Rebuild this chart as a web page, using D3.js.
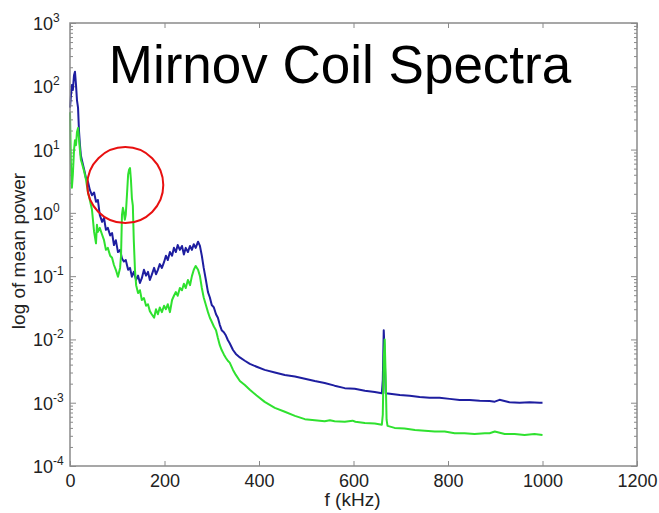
<!DOCTYPE html>
<html>
  <head>
    <title>Mirnov Coil Spectra</title>
    <script src="https://d3js.org/d3.v7.min.js"></script>
  </head>
  <style>
    body {
      margin: 0;
      background-color: white;
    }
    text {
      font-family: "Liberation Sans", Arial, sans-serif;
    }
  </style>
  <body>
    <div id="chart"></div>
    <script>

    // frequency (kHz) and mean power
    var blueFreq = [0, 2, 4, 6, 8.5, 10.5, 12.7, 14.8, 17, 19, 21, 23, 25, 30, 34, 38, 42, 46.5, 51, 55, 59,
      63, 68, 72, 76, 80, 85, 89, 93, 97, 101.5, 106, 110, 114, 118, 123, 127, 131, 135, 140, 144, 148, 152,
      156.5, 161, 165, 169, 173, 178, 182, 186, 190, 194.5, 199, 203, 207, 211.5, 216, 220, 224, 228, 232.5,
      237, 241, 245, 249.5, 254, 258, 262, 266, 271, 275, 279, 283, 287.6, 292, 296, 300, 304.5, 309, 313,
      317, 321, 325.6, 330, 334, 338, 345, 351, 359.5, 370, 380.6, 395, 412, 433.5, 454.6, 476, 497, 518,
      539, 560, 581.5, 602.6, 624, 645, 660, 662, 664, 666, 668, 677, 698, 719, 740, 761, 782, 803.5, 824.7,
      846, 867, 888, 899, 909, 930, 951.6, 972.7, 994, 1000];
    var bluePower = [46, 72, 105, 87, 150, 170, 105, 60, 46, 20, 12, 8.1, 6.9, 4.8, 3.5, 3.1, 2.3, 1.9, 2.1, 1.5, 1.6,
      0.93, 0.72, 0.83, 0.54, 0.58, 0.44, 0.48, 0.31, 0.37, 0.24, 0.26, 0.19, 0.17, 0.18, 0.126, 0.135, 0.098, 0.117, 0.087, 0.102, 0.078, 0.093,
      0.126, 0.102, 0.117, 0.087, 0.105, 0.135, 0.107, 0.126, 0.155, 0.135, 0.166, 0.21, 0.18, 0.24, 0.21, 0.28, 0.24, 0.31, 0.26,
      0.30, 0.22, 0.28, 0.24, 0.30, 0.26, 0.32, 0.28, 0.35, 0.30, 0.21, 0.135, 0.087, 0.056, 0.046, 0.035, 0.032, 0.025, 0.022,
      0.017, 0.014, 0.013, 0.0115, 0.0098, 0.0087, 0.0068, 0.0059, 0.0052, 0.0046, 0.0041, 0.0037, 0.0033, 0.0030, 0.00275, 0.0026, 0.0024, 0.0022,
      0.00205, 0.00186, 0.0017, 0.00166, 0.00155, 0.00148, 0.00141, 0.0023, 0.014, 0.0058, 0.00141, 0.00138, 0.00132, 0.00129, 0.00123, 0.0012, 0.0012, 0.00115, 0.0011,
      0.0011, 0.00107, 0.00106, 0.00104, 0.00111, 0.00102, 0.001, 0.00102, 0.001, 0.001];

    var greenFreq = [0, 2, 4, 6, 8.5, 10.5, 12.7, 14.8, 17, 19, 21, 23, 25, 30, 34, 38, 42, 46.5, 51, 55, 57, 59,
      63, 68, 72, 76, 80, 85, 89, 93, 97, 101.5, 106, 108, 110, 112, 114, 116, 118, 120.5, 123, 125, 127, 129,
      131, 133, 135, 137.5, 140, 144, 148, 152, 156.5, 161, 165, 169, 173, 178, 182, 186, 190, 194.5, 199,
      203, 207, 211.5, 216, 220, 224, 228, 232.5, 237, 241, 245, 249.5, 254, 258, 262, 266, 271, 275, 279,
      283, 287.6, 292, 296, 300, 304.5, 309, 313, 317, 321, 325.6, 330, 334, 338, 345, 351, 359.5, 370, 380.6,
      395, 412, 433.5, 454.6, 476, 497, 518, 539, 550, 560, 581.5, 598, 604, 624, 645, 660, 662, 664, 666, 668,
      670, 672, 687, 708, 730, 751, 772, 793, 814, 835, 856, 878, 888, 899, 920, 941, 962, 983, 1000];
    var greenPower = [39, 5.8, 2.5, 4.0, 9.8, 14, 11.7, 19, 22, 15, 9.8, 6.9, 6.2, 4.5, 3.3, 2.1, 1.6, 1.12, 0.50, 0.33, 0.65, 0.50,
      0.58, 0.45, 0.37, 0.26, 0.28, 0.21, 0.195, 0.15, 0.126, 0.098, 0.135, 0.21, 0.93, 1.2, 1.02, 0.78, 0.93, 1.9, 4.0, 4.8, 5.1, 3.3,
      1.7, 1.3, 0.37, 0.126, 0.072, 0.054, 0.060, 0.042, 0.045, 0.034, 0.036, 0.028, 0.025, 0.022, 0.030, 0.025, 0.032, 0.027, 0.034,
      0.030, 0.036, 0.027, 0.042, 0.049, 0.056, 0.049, 0.065, 0.060, 0.076, 0.065, 0.087, 0.072, 0.10, 0.126, 0.145, 0.126, 0.10, 0.065,
      0.046, 0.035, 0.027, 0.022, 0.019, 0.016, 0.014, 0.0105, 0.0081, 0.0068, 0.0058, 0.0051, 0.0046, 0.0043, 0.0033, 0.00275, 0.0022, 0.0019, 0.0016,
      0.0013, 0.00103, 0.00083, 0.00072, 0.00062, 0.00055, 0.00053, 0.00051, 0.00053, 0.00051, 0.0005, 0.00052, 0.0005, 0.00048, 0.00047, 0.00045, 0.00065, 0.0048, 0.010, 0.0028,
      0.00054, 0.00043, 0.0004, 0.00039, 0.00037, 0.00036, 0.00035, 0.00035, 0.00033, 0.00033, 0.00032, 0.00033, 0.00033, 0.00035, 0.00032, 0.00032, 0.00031, 0.00032, 0.00031];

    var xTicks = [0, 200, 400, 600, 800, 1000, 1200];
    var yExponents = [-4, -3, -2, -1, 0, 1, 2, 3];

    // red circle drawn round the green peaks (centre in data units)
    var circleCentre = {f: 117, p: 2.75};

    var width = 659, height = 513;
    var plotLeft = 70, plotRight = 637, plotTop = 23, plotBottom = 466;

    var x = d3.scaleLinear().domain([0, 1200]).range([plotLeft, plotRight]);
    var y = d3.scaleLog().domain([1e-4, 1e3]).range([plotBottom, plotTop]);

    var svg = d3.select("#chart").append("svg")
        .attr("width", width)
        .attr("height", height);

    var frameColor = "#8a8a8a";

    // minor + major log ticks
    var majors = yExponents.map(function(e) { return Math.pow(10, e); });
    var minors = [];
    for (var e = -4; e < 3; e++) {
      for (var m = 2; m <= 9; m++) minors.push(m * Math.pow(10, e));
    }

    function styleAxis(g) {
      g.select(".domain").remove();
      g.selectAll("line").attr("stroke", frameColor).attr("stroke-width", 1);
    }

    svg.append("g").attr("transform", "translate(" + plotLeft + ",0)")
        .call(d3.axisLeft(y).tickValues(minors).tickSize(-3).tickFormat(""))
        .call(styleAxis);
    svg.append("g").attr("transform", "translate(" + plotLeft + ",0)")
        .call(d3.axisLeft(y).tickValues(majors).tickSize(-6).tickFormat(""))
        .call(styleAxis);
    svg.append("g").attr("transform", "translate(" + plotRight + ",0)")
        .call(d3.axisRight(y).tickValues(minors).tickSize(-3).tickFormat(""))
        .call(styleAxis);
    svg.append("g").attr("transform", "translate(" + plotRight + ",0)")
        .call(d3.axisRight(y).tickValues(majors).tickSize(-6).tickFormat(""))
        .call(styleAxis);

    svg.append("g").attr("transform", "translate(0," + plotBottom + ")")
        .call(d3.axisBottom(x).tickValues(xTicks).tickSize(-5).tickPadding(8).tickFormat(d3.format("d")))
        .call(styleAxis)
        .call(function(g) {
          g.selectAll("text")
            .attr("font-size", 18)
            .attr("fill", "#222")
            .attr("font-family", "Liberation Sans, Arial, sans-serif");
        });
    svg.append("g").attr("transform", "translate(0," + plotTop + ")")
        .call(d3.axisTop(x).tickValues(xTicks).tickSize(-5).tickFormat(""))
        .call(styleAxis);

    // y tick labels 10^n
    var yLab = svg.append("g").selectAll("text")
        .data(yExponents)
        .enter().append("text")
          .attr("x", 33)
          .attr("y", function(d) { return y(Math.pow(10, d)) + 7; })
          .attr("font-size", 18)
          .attr("fill", "#222");
    yLab.append("tspan").text("10");
    yLab.append("tspan")
        .attr("dy", -8)
        .attr("font-size", 12)
        .text(function(d) { return d; });

    // data lines
    var line = d3.line()
        .x(function(d) { return x(d[0]); })
        .y(function(d) { return y(d[1]); });

    var blue = d3.zip(blueFreq, bluePower);
    var green = d3.zip(greenFreq, greenPower);

    svg.append("path")
        .datum(blue)
        .attr("d", line)
        .attr("fill", "none")
        .attr("stroke", "#1e1ea0")
        .attr("stroke-width", 2)
        .attr("stroke-linejoin", "round");

    svg.append("path")
        .datum(green)
        .attr("d", line)
        .attr("fill", "none")
        .attr("stroke", "#2fe12f")
        .attr("stroke-width", 2)
        .attr("stroke-linejoin", "round");

    // frame
    svg.append("rect")
        .attr("x", plotLeft)
        .attr("y", plotTop)
        .attr("width", plotRight - plotLeft)
        .attr("height", plotBottom - plotTop)
        .attr("fill", "none")
        .attr("stroke", frameColor)
        .attr("stroke-width", 1.5);

    // axis titles
    svg.append("text")
        .attr("x", x(600) - 1)
        .attr("y", 506)
        .attr("text-anchor", "middle")
        .attr("font-size", 19)
        .attr("fill", "#222")
        .text("f (kHz)");

    svg.append("text")
        .attr("transform", "translate(25," + 251 + ") rotate(-90)")
        .attr("text-anchor", "middle")
        .attr("font-size", 19)
        .attr("fill", "#222")
        .text("log of mean power");

    // big title
    svg.append("text")
        .attr("x", 340)
        .attr("y", 83)
        .attr("text-anchor", "middle")
        .attr("font-size", 53)
        .attr("fill", "black")
        .text("Mirnov Coil Spectra");

    // red circle annotation
    svg.append("circle")
        .attr("cx", x(circleCentre.f))
        .attr("cy", y(circleCentre.p))
        .attr("r", 38)
        .attr("fill", "none")
        .attr("stroke", "#e81010")
        .attr("stroke-width", 2);

    </script>
  </body>
</html>
